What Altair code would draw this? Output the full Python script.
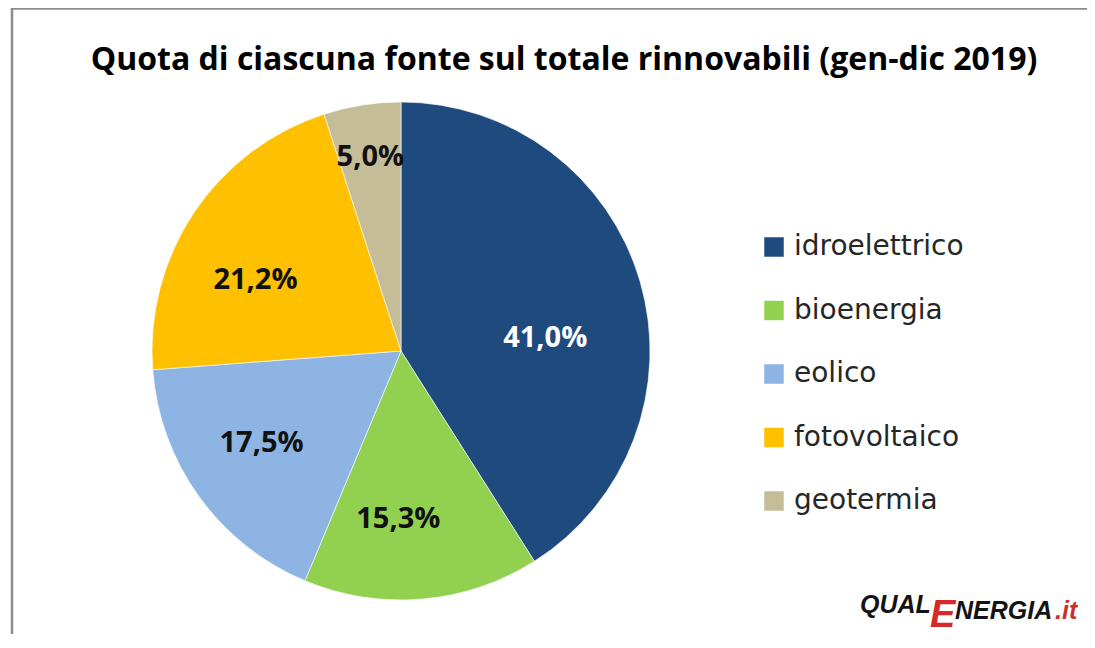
import altair as alt
import pandas as pd

# ---------------- data ----------------
sources = ["idroelettrico", "bioenergia", "eolico", "fotovoltaico", "geotermia"]
shares = [41.0, 15.3, 17.5, 21.2, 5.0]
labels = ["41,0%", "15,3%", "17,5%", "21,2%", "5,0%"]
colors = ["#1F4A7E", "#92D050", "#8DB4E2", "#FFC000", "#C4BD97"]
title_text = "Quota di ciascuna fonte sul totale rinnovabili (gen-dic 2019)"

df = pd.DataFrame({"source": sources, "share": shares, "label": labels,
                   "order": list(range(len(sources)))})

# ---------------- layout / style ----------------
W, H = 1079, 626
CX, CY, R = 393, 343, 249
# per-slice label styling: (radius, dx, dy, colour)
label_style = {
    "idroelettrico": (145, 5, 27, "white"),
    "bioenergia": (169, -17, 0, "#111111"),
    "eolico": (167, -4, -6, "#111111"),
    "fotovoltaico": (162, -11, 19, "#111111"),
    "geotermia": (196, 0, 0, "#111111"),
}

theta_scale = alt.Scale(domain=[0, 100])
color_scale = alt.Scale(domain=sources, range=colors)

base = alt.Chart(df)

pie = base.mark_arc(radius=R, stroke="white", strokeWidth=0.6).encode(
    theta=alt.Theta("share:Q", stack=True, scale=theta_scale),
    color=alt.Color(
        "source:N", scale=color_scale, sort=sources,
        legend=alt.Legend(
            title=None, orient="none", legendX=752, legendY=225,
            direction="vertical", symbolType="square", symbolSize=380,
            symbolStrokeWidth=0, labelFont="DejaVu Sans", labelFontSize=28,
            labelColor="#262626", labelOffset=6, rowPadding=35.5, padding=0,
            labelLimit=400,
        ),
    ),
    order=alt.Order("order:Q"),
    x=alt.value(CX),
    y=alt.value(CY),
)

layers = [pie]
for src in sources:
    r, dx, dy, col = label_style[src]
    t = (
        base.transform_window(cum="sum(share)", sort=[alt.SortField("order")])
        .transform_calculate(mid="datum.cum - datum.share / 2")
        .transform_filter(alt.datum.source == src)
        .mark_text(radius=r, dx=dx, dy=dy, color=col, font="Open Sans",
                   fontWeight="bold", fontSize=29, align="center",
                   baseline="middle")
        .encode(
            theta=alt.Theta("mid:Q", stack=False, scale=theta_scale),
            text="label:N",
            x=alt.value(CX),
            y=alt.value(CY),
        )
    )
    layers.append(t)

one = alt.Data(values=[{"t": 0}])

title = alt.Chart(alt.Data(values=[{"t": title_text}])).mark_text(
    font="Open Sans", fontWeight="bold", fontSize=32, color="#000000",
    align="center", baseline="alphabetic",
).encode(text="t:N", x=alt.value(556), y=alt.value(62))

def logo_part(txt, x, y, size, col):
    return alt.Chart(alt.Data(values=[{"t": txt}])).mark_text(
        font="Liberation Sans", fontWeight="bold", fontStyle="italic",
        fontSize=size, color=col, align="left", baseline="alphabetic",
    ).encode(text="t:N", x=alt.value(x), y=alt.value(y))

logo = [
    logo_part("QUAL", 852, 605, 25, "#141414"),
    logo_part("E", 922, 619, 38, "#D42A2A"),
    logo_part("NERGIA", 947, 611, 25, "#141414"),
    logo_part(".it", 1047, 611, 25, "#C8322E"),
]

left_border = alt.Chart(one).mark_rule(color="#8C8C8C", strokeWidth=2.5).encode(
    x=alt.value(4), y=alt.value(0), y2=alt.value(H))
top_border = alt.Chart(one).mark_rule(color="#8C8C8C", strokeWidth=2.5).encode(
    x=alt.value(4), x2=alt.value(W), y=alt.value(0.5))

chart = (
    alt.layer(*layers, title, *logo, left_border, top_border)
    .properties(width=W, height=H, padding=0,
                autosize=alt.AutoSizeParams(type="none"), background="white")
    .configure_view(stroke=None)
)

chart.save("out.html", embed_options={"renderer": "svg", "actions": False})
